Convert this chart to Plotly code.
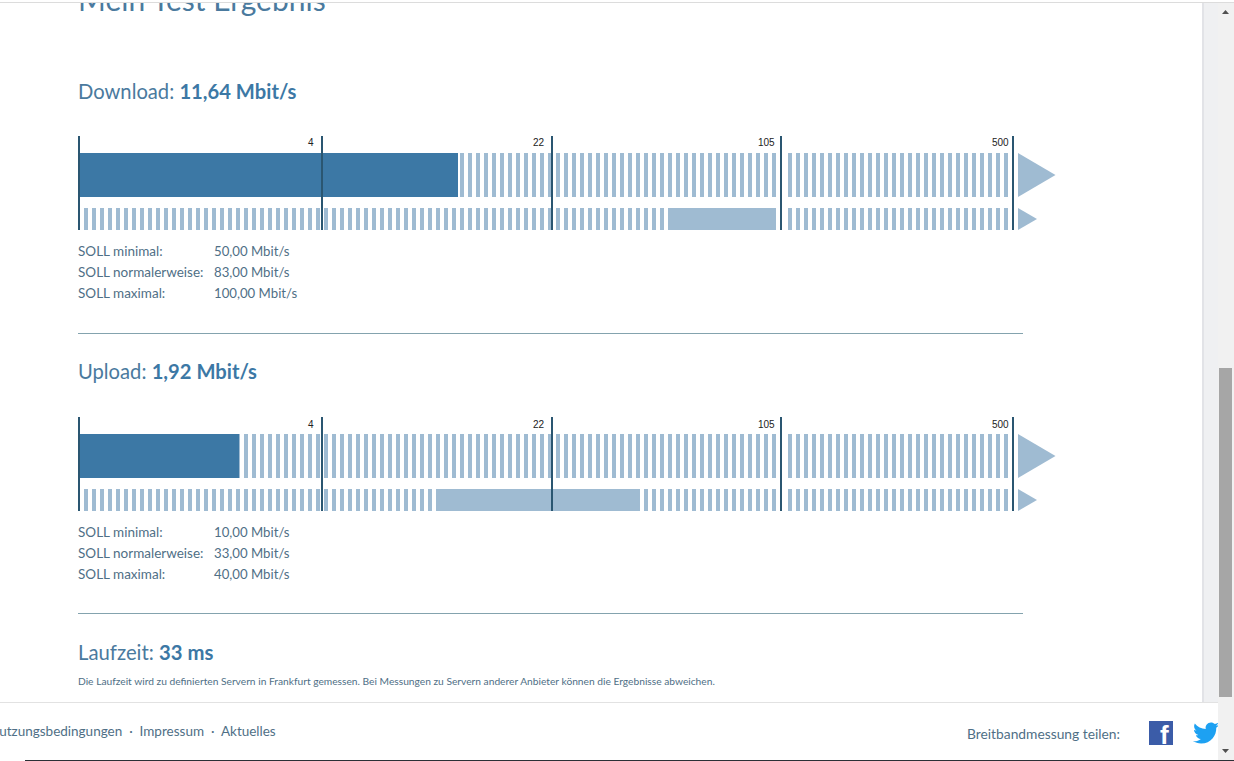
import re
import numpy as np
import plotly.graph_objects as go

# ---------- data ----------
tick_labels = ["4", "22", "105", "500"]
tick_cells = [29.75, 58.5, 87.125, 116.125]   # scale position of the tick, in stripe cells
axis_start_cell = -0.625
stripe_count = 116
hidden_stripes = [87]

panels = ["Download", "Upload"]
measured_text = ["11,64 Mbit/s", "1,92 Mbit/s"]
measured_end_cell = [46.75, 19.375]
band_first_cell = [73, 44]
band_last_cell = [86, 69]
soll_labels = ["SOLL minimal:", "SOLL normalerweise:", "SOLL maximal:"]
soll_download = ["50,00 Mbit/s", "83,00 Mbit/s", "100,00 Mbit/s"]
soll_upload = ["10,00 Mbit/s", "33,00 Mbit/s", "40,00 Mbit/s"]
soll_values = [soll_download, soll_upload]
latency_text = "33 ms"

# ---------- page geometry and style ----------
W, H = 1234, 761
TOP = 3
CELL = 8.0
ORIGIN = 84.0
panel_dy = [0, 281]
FONT = "Lato"
DARK = "#3c78a5"
LIGHT = "#9fbbd2"
TICK = "#2a5671"
TXT = "#4f6f86"
HEAD = "#4a7a9e"


def cx(px):
    return (px - ORIGIN) / CELL


def py(y):
    return 1 - (y - TOP) / (H - TOP)


def pxf(x):
    return x / W


fig = go.Figure()


def bars(x0, x1, y0, y1, color):
    x0, x1 = np.asarray(x0, float), np.asarray(x1, float)
    fig.add_trace(go.Bar(
        x=(x0 + x1) / 2, width=x1 - x0,
        base=[y0] * len(x0), y=[y1 - y0] * len(x0),
        marker=dict(color=color, line=dict(width=0)),
        hoverinfo="skip", showlegend=False))


stripes = np.array([k for k in range(stripe_count) if k not in hidden_stripes], float)
for p, dy in enumerate(panel_dy):
    top = (153 + dy, 197 + dy)
    low = (208 + dy, 230 + dy)
    bars(stripes, stripes + 0.5, top[0], top[1], LIGHT)
    bars(stripes, stripes + 0.5, low[0], low[1], LIGHT)
    bars([band_first_cell[p]], [band_last_cell[p] + 0.5], low[0], low[1], LIGHT)
    bars([cx(78)], [measured_end_cell[p]], top[0], top[1], DARK)
    all_ticks = [axis_start_cell] + tick_cells
    hw = 1.0 / CELL
    bars([t - hw for t in all_ticks], [t + hw for t in all_ticks], 136 + dy, 230 + dy, TICK)
    for (a, b), tip in ((top, cx(1055.5)), (low, cx(1037))):
        fig.add_trace(go.Scatter(
            x=[cx(1018), tip, cx(1018), cx(1018)], y=[a, (a + b) / 2, b, a],
            mode="lines", fill="toself", fillcolor=LIGHT, line=dict(width=0),
            hoverinfo="skip", showlegend=False))

# clipped page title
fig.add_trace(go.Scatter(
    x=[cx(78)], y=[3.5], mode="text", text=["Mein Test Ergebnis"],
    textposition="middle right", cliponaxis=True,
    textfont=dict(family=FONT, size=30, color=HEAD),
    hoverinfo="skip", showlegend=False))

ann = []


def T(x, y, s, size=13.5, color=TXT, anchor="left", family=FONT):
    ann.append(dict(xref="paper", yref="paper", x=pxf(x), y=py(y), text=s,
                    showarrow=False, xanchor=anchor, yanchor="middle",
                    borderpad=0, borderwidth=0, align=anchor,
                    font=dict(family=family, size=size, color=color)))


head_y = [91, 371]
for p, dy in enumerate(panel_dy):
    T(78, head_y[p], f"{panels[p]}: <b style='color:{DARK}'>{measured_text[p]}</b>", 20.2, HEAD)
    for lab, end in zip(tick_labels, [314, 545, 775, 1009]):
        T(end, 143 + dy, lab, 10, "#222222", "right", "Liberation Sans")
    for i, (lab, val) in enumerate(zip(soll_labels, soll_values[p])):
        T(78, 251 + dy + 21 * i, lab)
        T(214, 251 + dy + 21 * i, val, 13.2)

T(78, 652, f"Laufzeit: <b style='color:{DARK}'>{latency_text}</b>", 20.3, HEAD)
T(78, 681, "Die Laufzeit wird zu definierten Servern in Frankfurt gemessen. Bei Messungen zu Servern anderer Anbieter können die Ergebnisse abweichen.", 10.23, TXT)
T(276, 731, "Nutzungsbedingungen  ·  Impressum  ·  Aktuelles", 13.5, TXT, "right")
T(1120, 733, "Breitbandmessung teilen:", 13.8, TXT, "right")
T(1164, 735, "<b>f</b>", 26, "#ffffff", "center", "Liberation Sans")


def R(x0, y0, x1, y1, color, layer="below"):
    return dict(type="rect", xref="paper", yref="paper", x0=pxf(x0), x1=pxf(x1),
                y0=py(y0), y1=py(y1), fillcolor=color, line=dict(width=0), layer=layer)


def path_abs(d, sx, sy, ox, oy):
    """relative 24-unit icon path -> absolute paper-space path"""
    out, x, y = [], 0.0, 0.0
    for cmd, args in re.findall(r"([MmCcZz])([^MmCcZz]*)", d):
        n = [float(v) for v in re.findall(r"-?\d*\.?\d+", args)]
        if cmd == "M":
            x, y = n[0], n[1]
            out.append(("M", [(x, y)]))
        elif cmd == "c":
            for i in range(0, len(n), 6):
                pts = [(x + n[i + j], y + n[i + j + 1]) for j in (0, 2, 4)]
                out.append(("C", pts))
                x, y = pts[-1]
        elif cmd in "zZ":
            out.append(("Z", []))
    s = ""
    for c, pts in out:
        s += c + " ".join(f"{pxf(ox + a * sx):.5f},{py(oy + b * sy):.5f}" for a, b in pts) + " "
    return s.strip()


BIRD = ("M24 4.557c-.883.392-1.832.656-2.828.775 1.017-.609 1.798-1.574 2.165-2.724-.951.564-2.005.974-3.127 1.195"
        "-.897-.957-2.178-1.555-3.594-1.555-3.179 0-5.515 2.966-4.797 6.045-4.091-.205-7.719-2.165-10.148-5.144"
        "-1.29 2.213-.669 5.108 1.523 6.574-.806-.026-1.566-.247-2.229-.616-.054 2.281 1.581 4.415 3.949 4.89"
        "-.693.188-1.452.232-2.224.084.626 1.956 2.444 3.379 4.6 3.419-2.07 1.623-4.678 2.348-7.29 2.04"
        " 2.179 1.397 4.768 2.212 7.548 2.212 9.142 0 14.307-7.721 13.995-14.646.962-.695 1.797-1.562 2.457-2.549z")

shapes = [
    R(0, 0, W, H, "#ffffff"),
    R(78, 333, 1023, 334, "#84a3ae"),
    R(78, 613, 1023, 614, "#84a3ae"),
    R(1202, 3, 1218, 702, "#eff0f2"),
    R(1202, 3, 1204, 702, "#e2e3e7"),
    R(0, 2, W, 3, "#dcdcdc"),
    R(0, 702, 1218, 703, "#e2e2e2"),
    R(1149, 721, 1173, 745, "#3b5ca8"),
    dict(type="path", xref="paper", yref="paper", layer="below",
         path=path_abs(BIRD, 1.08, 1.08, 1193, 720), fillcolor="#1da1f2", line=dict(width=0)),
    R(1218, 3, W, 760, "#f1f1f1"),
    R(1219, 368, 1232, 697, "#a6a6a6"),
    R(25, 760, W, 761, "#2b3036"),
    dict(type="path", xref="paper", yref="paper", layer="below", fillcolor="#505050", line=dict(width=0),
         path=f"M{pxf(1222)},{py(14)} L{pxf(1229)},{py(14)} L{pxf(1225.5)},{py(10)} Z"),
    dict(type="path", xref="paper", yref="paper", layer="below", fillcolor="#505050", line=dict(width=0),
         path=f"M{pxf(1222)},{py(749)} L{pxf(1229)},{py(749)} L{pxf(1225.5)},{py(753)} Z"),
]

fig.update_layout(
    width=W, height=H, autosize=False,
    margin=dict(l=0, r=0, t=TOP, b=0, pad=0),
    paper_bgcolor="#ffffff", plot_bgcolor="rgba(0,0,0,0)",
    barmode="overlay", bargap=0, showlegend=False,
    xaxis=dict(range=[cx(0), cx(W)], visible=False, fixedrange=True),
    yaxis=dict(range=[H, TOP], visible=False, fixedrange=True),
    annotations=ann, shapes=shapes,
)
fig.write_html("out.html", config=dict(displayModeBar=False),
               post_script="document.body.style.margin='0';document.body.style.overflow='hidden';")
